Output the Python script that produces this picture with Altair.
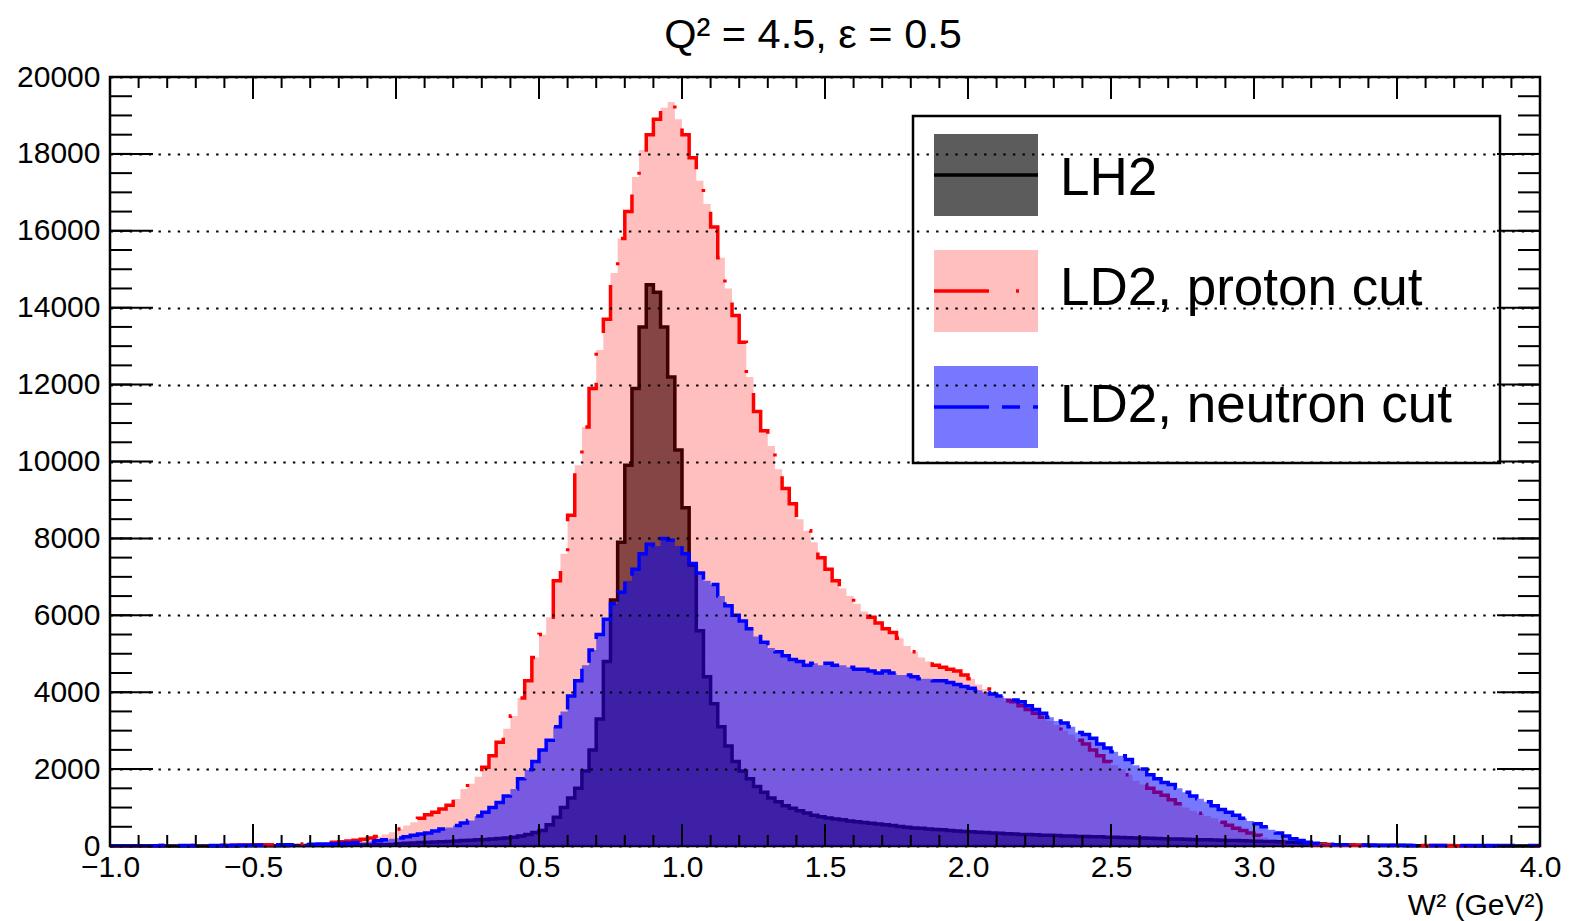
import altair as alt
import numpy as np
import pandas as pd

# ---------------- data (counts per bin, bin width 0.025, from W2 = -1.0 to 4.0) ----------------
BIN_START = -1.0
BIN_WIDTH = 0.025

lh2 = [
    0, 0, 0, 0, 0, 0, 0, 0, 0, 0, 0, 0, 0, 0, 0, 0, 0, 0, 5, 5,
    5, 5, 5, 5, 5, 10, 10, 10, 10, 10, 15, 15, 15, 20, 20, 25, 25, 30, 35, 40,
    60, 70, 80, 90, 100, 105, 110, 120, 130, 140, 150, 160, 170, 180, 195, 210, 230, 260, 300, 350,
    400, 550, 750, 1000, 1250, 1500, 1950, 2500, 3300, 4800, 6400, 7900, 9900, 11900, 13500, 14600, 14400, 13500, 12200, 10300,
    8800, 7300, 5600, 4400, 3700, 3100, 2600, 2200, 1950, 1750, 1550, 1400, 1250, 1150, 1050, 980, 920, 860, 800, 760,
    730, 700, 680, 650, 630, 610, 590, 570, 550, 530, 510, 490, 470, 460, 440, 430, 420, 400, 390, 380,
    370, 360, 350, 340, 330, 320, 310, 300, 300, 290, 280, 280, 270, 260, 260, 250, 250, 240, 240, 230,
    225, 220, 215, 210, 205, 200, 195, 190, 185, 180, 175, 170, 165, 160, 155, 150, 145, 140, 135, 130,
    125, 120, 115, 110, 100, 95, 85, 75, 60, 50, 40, 35, 30, 25, 20, 20, 15, 15, 10, 10,
    10, 5, 5, 5, 5, 5, 5, 5, 5, 5, 0, 0, 0, 0, 0, 0, 0, 0, 0, 0,
]

ld2_proton = [
    0, 0, 5, 0, 5, 5, 5, 10, 5, 10, 10, 10, 15, 10, 15, 20, 15, 20, 25, 25,
    30, 30, 35, 40, 40, 45, 50, 55, 60, 70, 80, 95, 110, 130, 150, 175, 210, 250, 300, 360,
    440, 530, 620, 720, 810, 880, 960, 1060, 1220, 1480, 1620, 1800, 2050, 2350, 2700, 3050, 3380, 3850, 4300, 4900,
    5500, 5950, 6900, 7600, 8600, 9900, 10900, 11900, 12900, 13700, 14900, 15800, 16500, 17400, 18100, 18500, 18900, 19200, 19350, 18900,
    18500, 17900, 17300, 16700, 16100, 15300, 14500, 13800, 13100, 12200, 11300, 10800, 10400, 9800, 9300, 8900, 8500, 8200, 7900, 7500,
    7200, 6900, 6700, 6500, 6300, 6100, 5950, 5800, 5650, 5550, 5400, 5200, 5050, 4900, 4800, 4700, 4650, 4600, 4550, 4450,
    4350, 4200, 4080, 3980, 3850, 3780, 3750, 3650, 3550, 3450, 3350, 3250, 3150, 3000, 2900, 2750, 2650, 2500, 2350, 2200,
    2100, 2000, 1850, 1700, 1600, 1500, 1400, 1320, 1200, 1100, 1000, 920, 850, 780, 720, 620, 540, 460, 400, 340,
    280, 220, 170, 130, 100, 80, 60, 45, 35, 30, 25, 25, 20, 20, 20, 15, 15, 15, 15, 10,
    10, 10, 10, 10, 10, 10, 10, 10, 5, 5, 5, 5, 5, 5, 5, 5, 5, 5, 5, 5,
]

ld2_neutron = [
    5, 5, 5, 5, 5, 5, 5, 10, 10, 10, 10, 10, 10, 15, 15, 15, 15, 20, 20, 20,
    20, 25, 25, 30, 30, 35, 35, 40, 45, 50, 55, 60, 70, 80, 90, 100, 115, 135, 160, 190,
    210, 240, 280, 310, 340, 390, 440, 480, 530, 600, 660, 780, 880, 1000, 1130, 1300, 1480, 1750, 1980, 2200,
    2500, 2750, 3100, 3500, 3900, 4300, 4700, 5100, 5500, 5900, 6300, 6600, 6900, 7200, 7600, 7850, 7800, 8000, 7950, 7800,
    7600, 7350, 7100, 6900, 6800, 6500, 6250, 6000, 5850, 5650, 5450, 5300, 5150, 5050, 4950, 4850, 4800, 4700, 4750, 4700,
    4750, 4700, 4700, 4650, 4600, 4600, 4550, 4500, 4550, 4500, 4450, 4450, 4400, 4350, 4350, 4300, 4300, 4250, 4200, 4150,
    4100, 4050, 4000, 3950, 3900, 3850, 3800, 3750, 3650, 3550, 3450, 3350, 3250, 3200, 3100, 2950, 2900, 2800, 2650, 2550,
    2450, 2350, 2250, 2100, 2000, 1850, 1750, 1650, 1600, 1500, 1400, 1300, 1230, 1150, 1050, 950, 880, 800, 720, 650,
    580, 500, 420, 340, 260, 190, 140, 100, 70, 50, 40, 35, 30, 30, 25, 25, 25, 20, 20, 20,
    20, 20, 15, 15, 15, 15, 15, 15, 15, 10, 10, 10, 10, 10, 10, 10, 10, 10, 10, 10,
]

legend_labels = ["LH2", "LD2, proton cut", "LD2, neutron cut"]
x_tick_labels = [-1.0, -0.5, 0.0, 0.5, 1.0, 1.5, 2.0, 2.5, 3.0, 3.5, 4.0]
y_tick_labels = [0, 2000, 4000, 6000, 8000, 10000, 12000, 14000, 16000, 18000, 20000]

# ---------------- layout / style ----------------
W, H = 1430, 769
FONT = "Liberation Sans"

edges = np.round(BIN_START + BIN_WIDTH * np.arange(len(lh2) + 1), 4)


def hist_df(vals):
    return pd.DataFrame({"w2": edges, "count": list(vals) + [vals[-1]]})


x_scale = alt.Scale(domain=[-1, 4], nice=False, zero=False)
y_scale = alt.Scale(domain=[0, 20000], nice=False, zero=True)

x_axis = alt.Axis(
    values=x_tick_labels, format=".1f", labelFont=FONT, labelFontSize=30, labelColor="black",
    labelPadding=6, labelOverlap=False, labelFlush=False, ticks=False, tickSize=0,
    domain=False, grid=False,
    title="W² (GeV²)", titleFont=FONT, titleFontSize=30, titleFontWeight="normal",
    titleColor="black", titleX=W + 4, titleY=68, titleAlign="right", titleBaseline="alphabetic",
    zindex=1,
)
y_axis = alt.Axis(
    values=y_tick_labels, format="d", labelFont=FONT, labelFontSize=30, labelColor="black",
    labelPadding=10, labelOverlap=False, labelFlush=False, ticks=False, tickSize=0, domain=False,
    grid=True, gridColor="black", gridDash=[2.4, 7.2], gridWidth=2.2, gridOpacity=1,
    title=None, zindex=1,
)

X = alt.X("w2:Q", scale=x_scale, axis=x_axis)
Y = alt.Y("count:Q", scale=y_scale, axis=y_axis)

series = [
    (lh2, "black", 0.64, None),
    (ld2_proton, "red", 0.25, [55, 27, 3, 27]),
    (ld2_neutron, "blue", 0.53, [55, 13, 18, 13]),
]

layers = []
for vals, col, op, dash in series:
    df = hist_df(vals)
    layers.append(
        alt.Chart(df).mark_area(interpolate="step-after", color=col, opacity=op).encode(x=X, y=Y)
    )
    line_kw = dict(interpolate="step-after", color=col, strokeWidth=3.5)
    if dash:
        line_kw["strokeDash"] = dash
    layers.append(alt.Chart(df).mark_line(**line_kw).encode(x=X, y=Y))

# ---------------- frame ticks (ROOT style, inward on all four sides) ----------------
xt_major = pd.DataFrame({"w2": x_tick_labels})
xt_minor = pd.DataFrame({"w2": np.round(np.arange(-1.0, 4.0001, 0.1), 3)})
yt_major = pd.DataFrame({"count": y_tick_labels})
yt_minor = pd.DataFrame({"count": np.arange(0, 20001, 500)})

tick = dict(color="black", strokeWidth=2)

for df, ln in ((xt_major, 22), (xt_minor, 11)):
    layers.append(alt.Chart(df).mark_rule(**tick).encode(x=X, y=alt.value(H), y2=alt.value(H - ln)))
    layers.append(alt.Chart(df).mark_rule(**tick).encode(x=X, y=alt.value(0), y2=alt.value(ln)))
for df, ln in ((yt_major, 43), (yt_minor, 22)):
    layers.append(alt.Chart(df).mark_rule(**tick).encode(y=Y, x=alt.value(0), x2=alt.value(ln)))
    layers.append(alt.Chart(df).mark_rule(**tick).encode(y=Y, x=alt.value(W), x2=alt.value(W - ln)))

# ---------------- legend (drawn as in ROOT TLegend) ----------------
one = pd.DataFrame({"a": [0]})
layers.append(
    alt.Chart(one).mark_rect(filled=False, stroke="black", strokeWidth=2.5).encode(
        x=alt.value(803), x2=alt.value(1390), y=alt.value(39), y2=alt.value(386)
    )
)
box_tops = [57, 173, 289]
text_base = [118, 228, 345]
for (vals, col, op, dash), lab, top, tb in zip(series, legend_labels, box_tops, text_base):
    layers.append(
        alt.Chart(one).mark_rect(color=col, opacity=op).encode(
            x=alt.value(824), x2=alt.value(928), y=alt.value(top), y2=alt.value(top + 82)
        )
    )
    rk = dict(color=col, strokeWidth=3.5)
    if dash:
        rk["strokeDash"] = dash
    layers.append(
        alt.Chart(one).mark_rule(**rk).encode(
            x=alt.value(824), x2=alt.value(928), y=alt.value(top + 41)
        )
    )
    layers.append(
        alt.Chart(one).mark_text(
            text=lab, font=FONT, fontSize=53, align="left", baseline="alphabetic", color="black"
        ).encode(x=alt.value(950), y=alt.value(tb))
    )

chart = (
    alt.layer(*layers)
    .properties(
        width=W,
        height=H,
        padding={"left": 110, "top": 77, "right": 35, "bottom": 75},
        autosize=alt.AutoSizeParams(type="none"),
        background="white",
        title=alt.Title(
            "Q² = 4.5, ε = 0.5", font=FONT, fontSize=41.5, fontWeight="normal",
            color="black", anchor="middle", offset=6, dx=-12,
        ),
    )
    .configure_view(stroke="black", strokeWidth=2.5)
)

chart.save("out.html", embed_options={"renderer": "svg", "actions": False})
